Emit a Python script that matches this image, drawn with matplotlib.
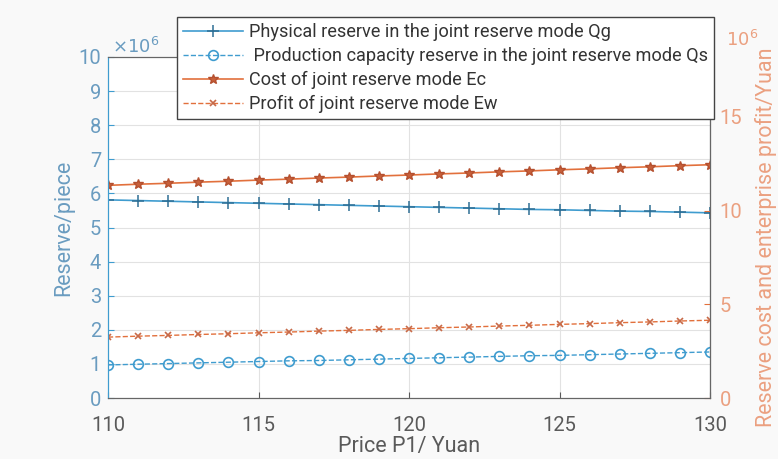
import numpy as np
import matplotlib.pyplot as plt

plt.rcParams['font.family'] = ['Roboto', 'DejaVu Sans']

# price P1 (yuan)
price = list(range(110, 131))

# reserves, in units of 1e6 pieces
qg = [5.81, 5.79, 5.77, 5.75, 5.73, 5.71, 5.69, 5.67, 5.65, 5.63, 5.61,
      5.59, 5.57, 5.55, 5.53, 5.52, 5.50, 5.48, 5.47, 5.45, 5.43]
qs = [0.97, 0.99, 1.01, 1.03, 1.05, 1.07, 1.09, 1.10, 1.12, 1.14, 1.16,
      1.18, 1.20, 1.22, 1.24, 1.25, 1.27, 1.29, 1.31, 1.33, 1.35]

# cost and profit, in units of 1e6 yuan
ec = [11.35, 11.41, 11.46, 11.52, 11.57, 11.63, 11.68, 11.74, 11.79, 11.85, 11.90,
      11.96, 12.01, 12.07, 12.12, 12.18, 12.23, 12.29, 12.34, 12.40, 12.45]
ew = [3.25, 3.30, 3.34, 3.39, 3.43, 3.48, 3.52, 3.57, 3.61, 3.66, 3.70,
      3.75, 3.79, 3.84, 3.88, 3.93, 3.97, 4.02, 4.06, 4.11, 4.15]

blue = '#3f9ccf'
blue_txt = '#6a9cc0'
orange = '#e2703c'
orange_txt = '#eba080'
gray = '#5a5a5a'

fig = plt.figure(figsize=(7.78, 4.59), dpi=100, facecolor='#f9f9f9')
ax = fig.add_axes([108 / 778, 61 / 459, 602 / 778, 341 / 459])
ax2 = ax.twinx()

l1, = ax.plot(price, qg, '-', color=blue, lw=1.2, marker='+', ms=8,
              mec='#2f6f95', mew=1.1,
              label='Physical reserve in the joint reserve mode Qg')
l2, = ax.plot(price, qs, '--', color=blue, lw=1.0, marker='o', ms=7,
              mfc='none', mec=blue, mew=1.2,
              label=' Production capacity reserve in the joint reserve mode Qs')
l3, = ax2.plot(price, ec, '-', color=orange, lw=1.2, marker='*', ms=7.5,
               mec='#b5502f', mfc='#c8603a',
               label='Cost of joint reserve mode Ec')
l4, = ax2.plot(price, ew, '--', color=orange, lw=1.0, marker='x', ms=5,
               mec='#c86a48', mew=1.2,
               label='Profit of joint reserve mode Ew')

ax.set_xlim(110, 130)
ax.set_ylim(0, 10)
ax2.set_ylim(0, 18.2)
ax.set_xticks([110, 115, 120, 125, 130])
ax.set_yticks(np.arange(0, 11, 1))
ax2.set_yticks([0, 5, 10, 15])

ax.grid(True, color='#e2e2e2', lw=0.8)
ax.set_axisbelow(True)

ax.tick_params(axis='x', direction='in', colors=gray, labelsize=14.5, length=4,
               pad=13)
ax.tick_params(axis='y', direction='in', colors=blue, labelcolor=blue_txt,
               labelsize=14.5, length=4, pad=5)
ax2.tick_params(axis='y', direction='in', colors=orange, labelcolor=orange_txt,
                labelsize=14.5, length=4, pad=7)

for s in ['top', 'bottom']:
    ax.spines[s].set_color('#666666')
ax2.spines['top'].set_color('#666666')
ax2.spines['bottom'].set_color('#666666')
ax2.spines['left'].set_color(blue)
ax2.spines['right'].set_color('#666666')
ax.spines['left'].set_color(blue)

ax.set_xlabel('Price P1/ Yuan', color=gray, fontsize=15.5, labelpad=1)
ax.set_ylabel('Reserve/piece', color=blue_txt, fontsize=15.5, labelpad=3)
ax2.set_ylabel('Reserve cost and enterprise profit/Yuan', color=orange_txt,
               fontsize=15.5)
ax2.yaxis.set_label_coords(1.075, 0.47)

ax.text(0.007, 1.0, r'$\times10^6$', transform=ax.transAxes, color=blue_txt,
        fontsize=13, ha='left', va='bottom')
ax2.text(1.027, 1.02, r'$10^6$', transform=ax2.transAxes, color=orange_txt,
         fontsize=13, ha='left', va='bottom')

leg = fig.legend(handles=[l1, l2, l3, l4], loc='upper left',
                 bbox_to_anchor=(177 / 778, 1 - 17 / 459), fontsize=13.1,
                 frameon=True, fancybox=False, edgecolor='#444444',
                 framealpha=1, borderpad=0.35, labelspacing=0.32,
                 handlelength=3.3, handletextpad=0.3, borderaxespad=0)
leg.get_frame().set_linewidth(1.0)
for t in leg.get_texts():
    t.set_color('#333333')

fig.savefig('out.png', dpi=100, facecolor=fig.get_facecolor())
